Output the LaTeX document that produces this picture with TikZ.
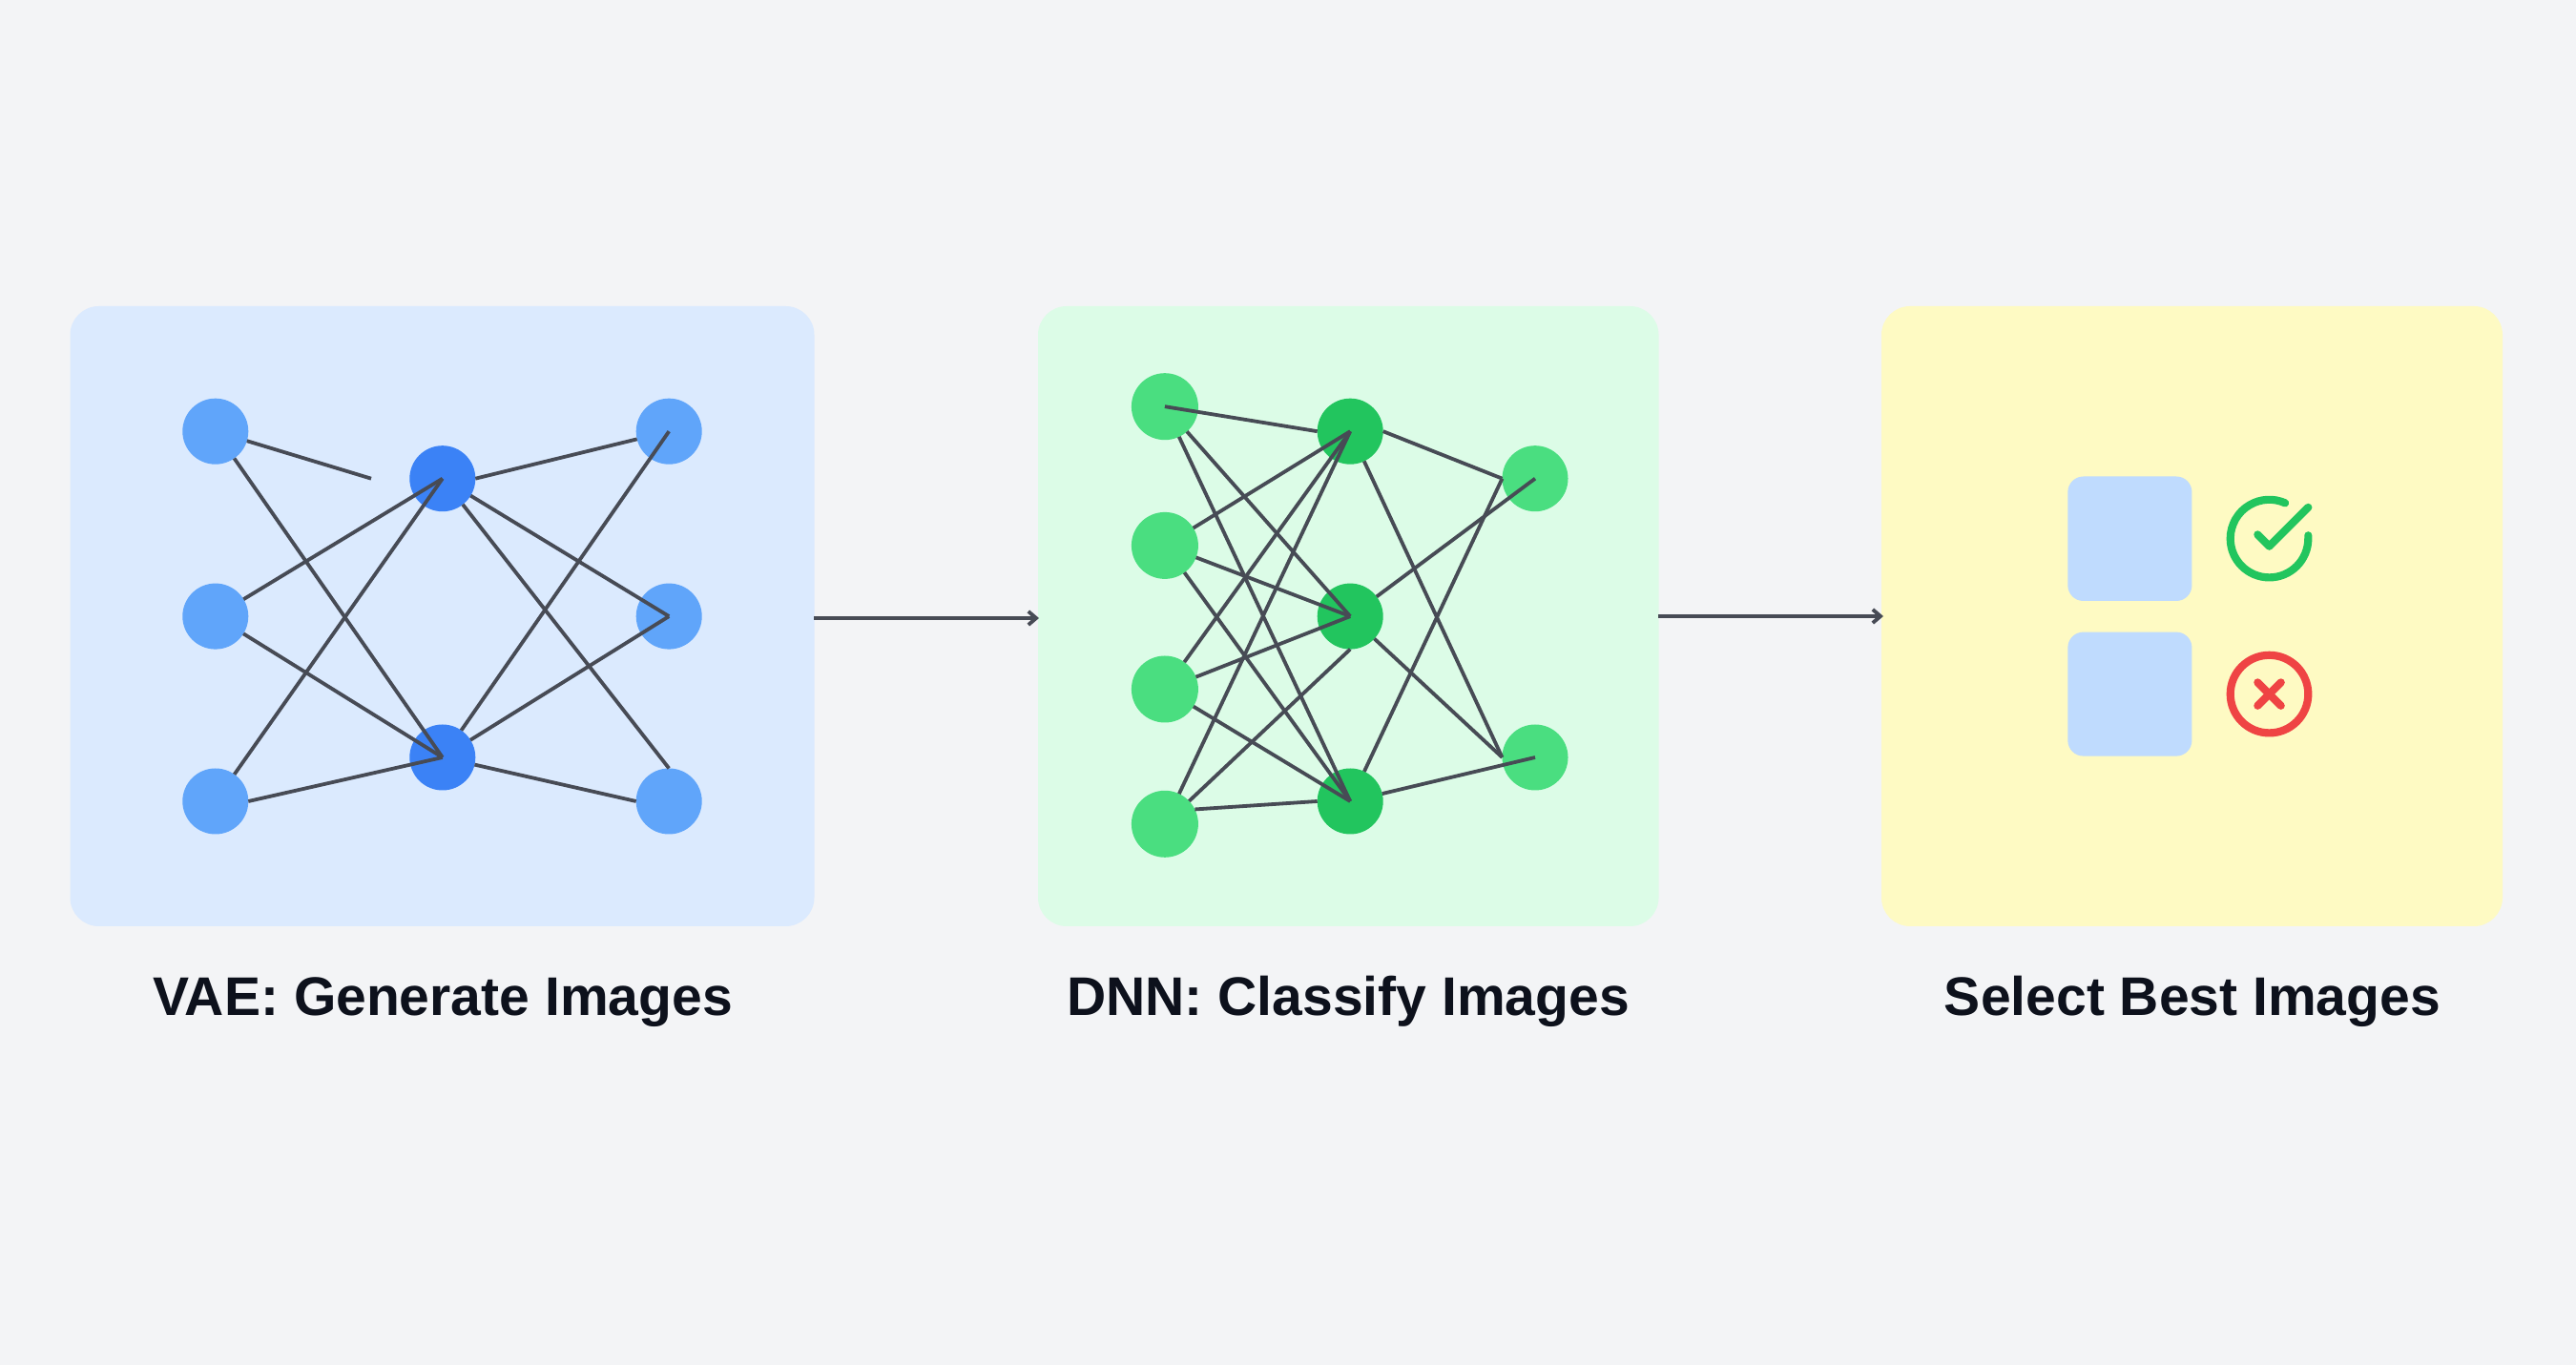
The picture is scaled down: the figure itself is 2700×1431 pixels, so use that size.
\documentclass[tikz,border=0pt]{standalone}
\usepackage{fontspec}
\setmainfont{Liberation Sans}
\usetikzlibrary{arrows.meta}
\definecolor{bgc}{HTML}{F3F4F6}
\definecolor{pblue}{HTML}{DBEAFE}
\definecolor{pgreen}{HTML}{DCFCE7}
\definecolor{pyellow}{HTML}{FEFAC3}
\definecolor{nblue}{HTML}{60A5FA}
\definecolor{dblue}{HTML}{3B82F6}
\definecolor{ngreen}{HTML}{4ADE80}
\definecolor{dgreen}{HTML}{22C55E}
\definecolor{sq}{HTML}{BFDBFE}
\definecolor{cred}{HTML}{EF4444}
\definecolor{wire}{HTML}{474B55}
\definecolor{ink}{HTML}{0D111C}
\tikzset{
  x=0.03cm,y=0.03cm,
  lightb/.style={circle,fill=nblue,draw=none,minimum size=2.07cm,inner sep=0pt,outer sep=0pt},
  darkb/.style={circle,fill=dblue,draw=none,minimum size=2.07cm,inner sep=0pt,outer sep=0pt},
  lightg/.style={circle,fill=ngreen,draw=none,minimum size=2.1cm,inner sep=0pt,outer sep=0pt},
  darkg/.style={circle,fill=dgreen,draw=none,minimum size=2.07cm,inner sep=0pt,outer sep=0pt},
  endg/.style={circle,fill=ngreen,draw=none,minimum size=2.07cm,inner sep=0pt,outer sep=0pt},
  wireline/.style={draw=wire,line width=0.114cm},
  flow/.style={wireline,-{Straight Barb[length=7pt,width=12pt,line width=3.3pt]}},
  caption/.style={font=\fontsize{48.7}{56}\selectfont\bfseries,text=ink,anchor=base,inner sep=0pt},
  iconline/.style={line width=0.245cm,line cap=round,line join=round}
}
\begin{document}
\begin{tikzpicture}
\useasboundingbox (0,0) rectangle (2700,1431);
\fill[bgc] (0,0) rectangle (2700,1431);
% panels
\fill[pblue,rounded corners=0.9cm] (73.5,1431-321) rectangle (853.5,1431-971);
\fill[pgreen,rounded corners=0.9cm] (1088,1431-321) rectangle (1738.5,1431-971);
\fill[pyellow,rounded corners=0.9cm] (1972,1431-321) rectangle (2623,1431-971);
% VAE nodes
\node[lightb] (a1) at (225.8,1431-452.2) {};
\node[lightb] (a2) at (225.8,1431-646.1) {};
\node[lightb] (a3) at (225.8,1431-840) {};
\node[darkb] (b1) at (463.8,1431-501.7) {};
\node[darkb] (b2) at (463.8,1431-794) {};
\node[lightb] (c1) at (701.2,1431-452.2) {};
\node[lightb] (c2) at (701.2,1431-646.1) {};
\node[lightb] (c3) at (701.2,1431-840) {};
\coordinate (afree) at (389,1431-501.7);
\draw[wireline] (a1) -- (afree);
\draw[wireline] (a1) -- (b2.center);
\draw[wireline] (a2) -- (b1.center);
\draw[wireline] (a2) -- (b2.center);
\draw[wireline] (a3) -- (b1.center);
\draw[wireline] (a3.east) -- (b2.center);
\draw[wireline] (b1.east) -- (c1);
\draw[wireline] (b1) -- (c2.center);
\draw[wireline] (b1) -- (c3.north);
\draw[wireline] (b2) -- (c1.center);
\draw[wireline] (b2) -- (c2.center);
\draw[wireline] (b2) -- (c3.west);
% DNN nodes
\node[lightg] (d1) at (1220.9,1431-426.2) {};
\node[lightg] (d2) at (1220.9,1431-571.9) {};
\node[lightg] (d3) at (1220.9,1431-722.5) {};
\node[lightg] (d4) at (1220.9,1431-863.8) {};
\node[darkg] (e1) at (1415.2,1431-452.2) {};
\node[darkg] (e2) at (1415.2,1431-646.1) {};
\node[darkg] (e3) at (1415.2,1431-840) {};
\node[endg] (f1) at (1609,1431-501.7) {};
\node[endg] (f2) at (1609,1431-794) {};
\draw[wireline] (d1.center) -- (e1.west);
\draw[wireline] (d1) -- (e2.center);
\draw[wireline] (d1) -- (e3.center);
\draw[wireline] (d2) -- (e1.center);
\draw[wireline] (d2) -- (e2.center);
\draw[wireline] (d2) -- (e3.center);
\draw[wireline] (d3) -- (e1.center);
\draw[wireline] (d3) -- (e2.center);
\draw[wireline] (d3) -- (e3.center);
\draw[wireline] (d4) -- (e1.center);
\draw[wireline] (d4) -- (e2.south);
\draw[wireline] (d4.26) -- (e3.west);
\draw[wireline] (e1.east) -- (f1.west);
\draw[wireline] (e1) -- (f2.west);
\draw[wireline] (e2) -- (f1.center);
\draw[wireline] (e2) -- (f2.west);
\draw[wireline] (e3) -- (f1.west);
\draw[wireline] (e3) -- (f2.center);
% flow arrows
\coordinate (s1) at (853,1431-648);
\coordinate (t1) at (1089,1431-648);
\coordinate (s2) at (1738,1431-646);
\coordinate (t2) at (1974,1431-646);
\draw[flow] (s1) -- (t1);
\draw[flow] (s2) -- (t2);
% selection panel
\fill[sq,rounded corners=0.49cm] (2167.3,1431-499.5) rectangle (2297.4,1431-630);
\fill[sq,rounded corners=0.49cm] (2167.3,1431-662.6) rectangle (2297.4,1431-792.6);
% check icon
\draw[iconline,dgreen] (2419.3,1431-561.3) -- (2419.3,1431-564.6)
  arc[start angle=0,end angle=-294,radius=40.8];
\draw[iconline,dgreen] (2419.3,1431-531.9) -- (2378.5,1431-572.7) -- (2366.3,1431-560.4);
% cross icon
\draw[iconline,cred] (2378.5,1431-727.6) circle[radius=40.8];
\draw[iconline,cred] (2390.7,1431-715.4) -- (2366.3,1431-739.8);
\draw[iconline,cred] (2366.3,1431-715.4) -- (2390.7,1431-739.8);
% captions
\node[caption] (l1) at (464,1431-1065) {VAE: Generate Images};
\node[caption] (l2) at (1413,1431-1065) {DNN: Classify Images};
\node[caption] (l3) at (2298,1431-1065) {Select Best Images};
\end{tikzpicture}
\end{document}
